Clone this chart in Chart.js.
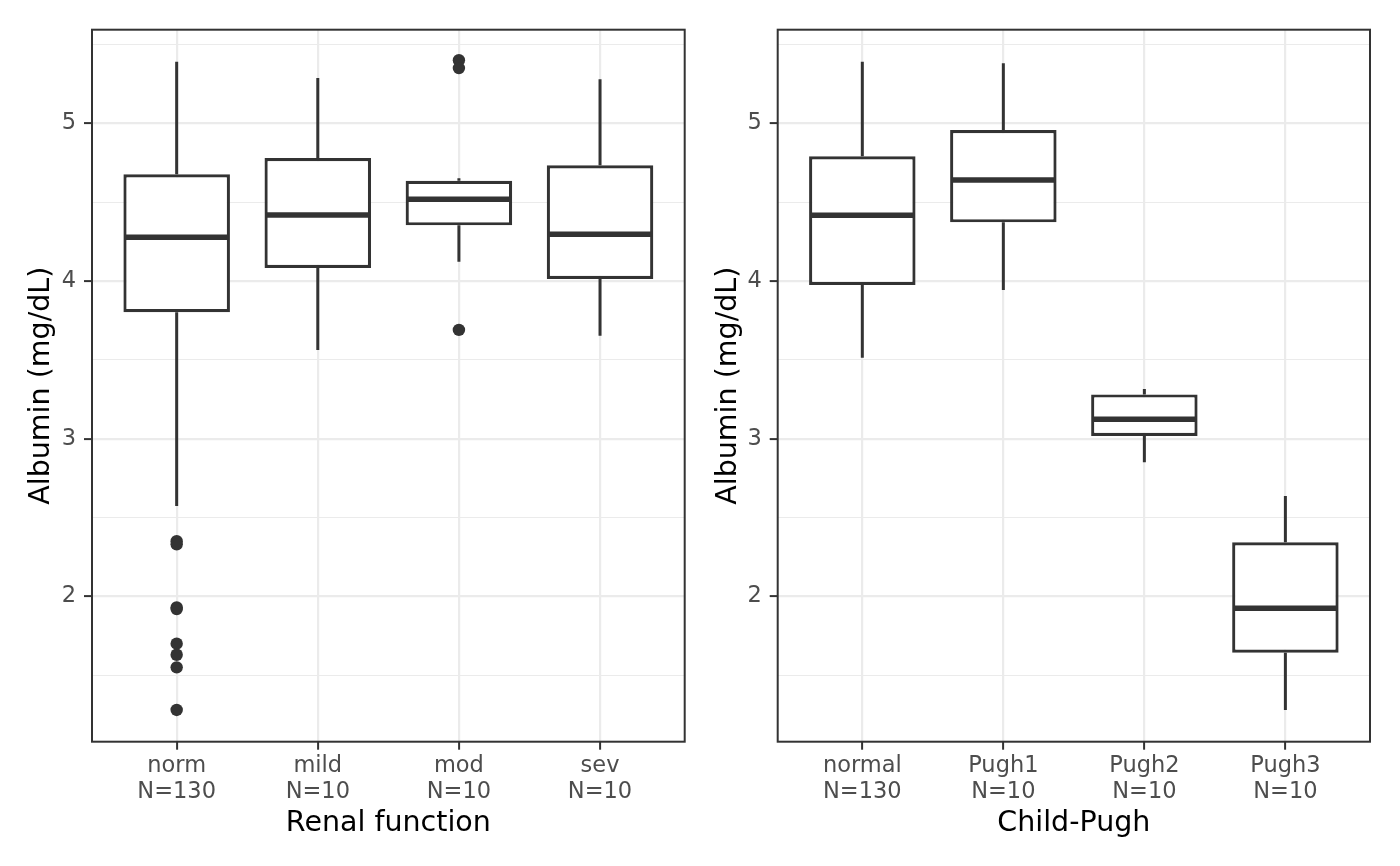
<!DOCTYPE html>
<html>
<head>
<meta charset="utf-8">
<script src="https://cdn.jsdelivr.net/npm/chart.js@4"></script>
<style>
  html, body { margin: 0; padding: 0; background: #ffffff; }
  #wrap { width: 1400px; height: 866px; display: flex; }
  .cell { width: 700px; height: 866px; position: relative; }
</style>
</head>
<body>
<div id="wrap">
  <div class="cell"><canvas id="c1" width="700" height="866"></canvas></div>
  <div class="cell"><canvas id="c2" width="700" height="866"></canvas></div>
</div>
<script>
// ---------- data ----------
const renalCats = ['norm', 'mild', 'mod', 'sev'];
const renalN    = [130, 10, 10, 10];
const renalLo   = [2.573, 3.563, 4.122, 3.653];
const renalQ1   = [3.802, 4.083, 4.353, 4.013];
const renalMed  = [4.277, 4.419, 4.518, 4.296];
const renalQ3   = [4.677, 4.780, 4.636, 4.734];
const renalHi   = [5.391, 5.287, 4.651, 5.279];
const renalOut  = [
  [2.35, 2.33, 1.93, 1.92, 1.70, 1.63, 1.55, 1.28],
  [],
  [5.40, 5.35, 3.69],
  []
];

const cpCats = ['normal', 'Pugh1', 'Pugh2', 'Pugh3'];
const cpN    = [130, 10, 10, 10];
const cpLo   = [3.514, 3.943, 2.850, 1.280];
const cpQ1   = [3.975, 4.372, 3.017, 1.643];
const cpMed  = [4.417, 4.640, 3.123, 1.925];
const cpQ3   = [4.791, 4.957, 3.281, 2.343];
const cpHi   = [5.391, 5.380, 3.315, 2.637];
const cpOut  = [[], [], [], []];

const yMin = 1.0787, yMax = 5.5935;
const yTitle = 'Albumin (mg/dL)';

// ---------- styling ----------
const FONT = "'DejaVu Sans', sans-serif";
const INK = '#333333';
const GRID = '#EBEBEB';
const BOX_FRAC = 0.755;

const boxPlugin = {
  id: 'boxParts',
  beforeDatasetsDraw(chart) {
    const st = chart.options.plugins.boxParts;
    const x = chart.scales.x, y = chart.scales.y, ctx = chart.ctx;
    ctx.save();
    ctx.strokeStyle = INK; ctx.lineWidth = 3; ctx.lineCap = 'butt';
    st.lo.forEach((lo, i) => {
      const px = x.getPixelForValue(i + 1);
      ctx.beginPath();
      ctx.moveTo(px, y.getPixelForValue(st.q3[i]));
      ctx.lineTo(px, y.getPixelForValue(st.hi[i]));
      ctx.moveTo(px, y.getPixelForValue(st.q1[i]));
      ctx.lineTo(px, y.getPixelForValue(lo));
      ctx.stroke();
    });
    ctx.restore();
  },
  afterDatasetsDraw(chart) {
    const st = chart.options.plugins.boxParts;
    const x = chart.scales.x, y = chart.scales.y, ctx = chart.ctx;
    const half = (x.getPixelForValue(1 + BOX_FRAC / 2) - x.getPixelForValue(1));
    ctx.save();
    ctx.strokeStyle = INK; ctx.lineWidth = 5.5; ctx.lineCap = 'butt';
    st.med.forEach((m, i) => {
      const px = x.getPixelForValue(i + 1);
      const py = y.getPixelForValue(m);
      ctx.beginPath();
      ctx.moveTo(px - half + 1.5, py);
      ctx.lineTo(px + half - 1.5, py);
      ctx.stroke();
    });
    ctx.restore();
  },
  afterDraw(chart) {
    const a = chart.chartArea, ctx = chart.ctx;
    ctx.save();
    ctx.strokeStyle = INK; ctx.lineWidth = 2;
    ctx.strokeRect(a.left, a.top, a.right - a.left, a.bottom - a.top);
    ctx.restore();
  }
};

function makeChart(id, cats, ns, lo, q1, med, q3, hi, out, xTitle, yAxisW, padRight, yTitlePad) {
  const boxes = cats.map((c, i) => ({ x: i + 1, y: [q1[i], q3[i]] }));
  const pts = [];
  out.forEach((arr, i) => arr.forEach(v => pts.push({ x: i + 1, y: v })));
  const labels = cats.map((c, i) => [c, 'N=' + ns[i]]);
  return new Chart(document.getElementById(id), {
    type: 'bar',
    data: {
      datasets: [
        {
          type: 'bar',
          data: boxes,
          backgroundColor: '#ffffff',
          borderColor: INK,
          borderWidth: 3.2,
          borderSkipped: false,
          categoryPercentage: 1,
          barPercentage: BOX_FRAC,
          inflateAmount: 0,
          order: 2
        },
        {
          type: 'scatter',
          data: pts,
          pointRadius: 6.2,
          pointHoverRadius: 6.2,
          pointBackgroundColor: INK,
          pointBorderWidth: 0,
          showLine: false,
          order: 1
        }
      ]
    },
    options: {
      responsive: false,
      animation: false,
      events: [],
      layout: { padding: { top: 29.7, right: padRight, bottom: 0, left: 0 } },
      plugins: {
        legend: { display: false },
        tooltip: { enabled: false },
        boxParts: { lo, q1, med, q3, hi }
      },
      scales: {
        x: {
          type: 'linear',
          min: 0.4, max: 4.6,
          offset: false,
          afterFit: s => { s.height = 866 - 741.7; },
          border: { display: false },
          grid: {
            offset: false,
            color: GRID, lineWidth: 2.2,
            tickColor: INK, tickWidth: 2, tickLength: 8,
            drawTicks: true
          },
          ticks: {
            stepSize: 1,
            includeBounds: false,
            autoSkip: false,
            maxRotation: 0, minRotation: 0,
            padding: 4,
            color: '#4D4D4D',
            font: { family: FONT, size: 22.5, lineHeight: 1.13 },
            callback: v => (Number.isInteger(v) && v >= 1 && v <= labels.length) ? labels[v - 1] : ''
          },
          title: {
            display: true, text: xTitle, color: '#000000',
            font: { family: FONT, size: 28.5, lineHeight: 1.2 },
            padding: { top: 0, bottom: 25 }
          }
        },
        y: {
          type: 'linear',
          min: yMin, max: yMax,
          afterFit: s => { s.width = yAxisW; },
          border: { display: false },
          grid: {
            color: GRID,
            lineWidth: c => (Number.isInteger(c.tick && c.tick.value) ? 2.2 : 1.1),
            tickColor: c => (Number.isInteger(c.tick && c.tick.value) ? INK : 'rgba(0,0,0,0)'),
            tickWidth: 2, tickLength: 8, drawTicks: true
          },
          ticks: {
            stepSize: 0.5,
            includeBounds: false,
            autoSkip: false,
            padding: 8,
            color: '#4D4D4D',
            font: { family: FONT, size: 22.5 },
            callback: v => (Number.isInteger(v) ? String(v) : '')
          },
          title: {
            display: true, text: yTitle, color: '#000000',
            font: { family: FONT, size: 28.5, lineHeight: 1.2 },
            padding: { top: yTitlePad, bottom: 0 }
          }
        }
      }
    },
    plugins: [boxPlugin]
  });
}

makeChart('c1', renalCats, renalN, renalLo, renalQ1, renalMed, renalQ3, renalHi, renalOut,
  'Renal function', 92, 15.3, 24.7);
makeChart('c2', cpCats, cpN, cpLo, cpQ1, cpMed, cpQ3, cpHi, cpOut,
  'Child-Pugh', 77.7, 30, 11.3);
</script>
</body>
</html>
